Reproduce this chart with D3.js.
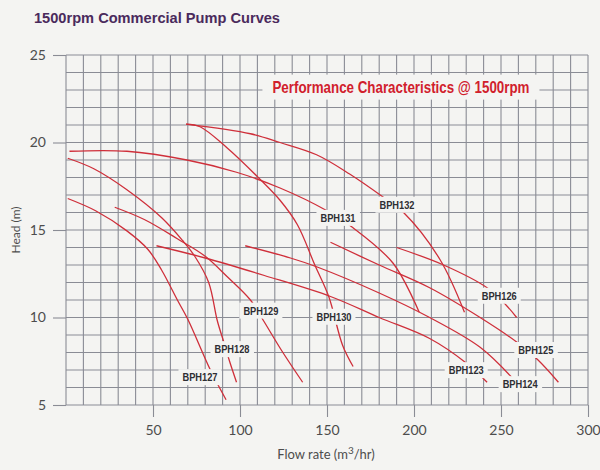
<!DOCTYPE html>
<html><head><meta charset="utf-8">
<script src="https://cdn.jsdelivr.net/npm/d3@7"></script>
<style>
html,body{margin:0;padding:0;background:#f4f4f2;}
svg{display:block;}
</style>
</head><body>
<svg id="chart" width="600" height="470"></svg>
<script>
// ---- data (flow m3/hr, head m) ----
const flowTicks = [50, 100, 150, 200, 250, 300];
const headTicks = [5, 10, 15, 20, 25];
const pumpNames = ["BPH123","BPH124","BPH125","BPH126","BPH127","BPH128","BPH129","BPH130","BPH131","BPH132"];
const bph123 = [[52,14.1],[80,13.4],[114,12.4],[152,11.2],[180,10.0],[209,8.8],[230,7.4],[242,6.3]];
const bph124 = [[103,14.1],[129,13.4],[144,12.9],[180,11.4],[209,10.0],[238,8.3],[256,6.6]];
const bph125 = [[152,14.3],[180,13.0],[209,11.7],[238,10.0],[259,8.6],[271,7.6],[283,6.3]];
const bph126 = [[190,14.0],[217,13.0],[242,11.7],[253,10.7],[259,10.0]];
const bph127 = [[1,16.8],[17,16.1],[35,14.95],[47,13.9],[55,12.7],[64,11.0],[70,9.9],[83,7.0],[92,5.3]];
const bph128 = [[1,19.1],[16,18.5],[35,17.3],[55,15.7],[67,14.4],[74,13.5],[82,12.0],[87,9.8],[91,8.5],[94,7.5],[98,6.3]];
const bph129 = [[28,16.3],[45,15.6],[64,14.5],[80,13.5],[93,12.3],[106,11.0],[113,9.9],[124,8.1],[136,6.3]];
const bph130 = [[69,21.05],[77,20.9],[92.5,19.7],[111.5,17.9],[123,16.7],[133,15.3],[143,13.0],[151,11.2],[159,8.4],[165,7.2]];
const bph131 = [[2,19.5],[35,19.5],[69.5,19.0],[98,18.3],[123,17.4],[150,16.1],[164,15.2],[188,13.1],[203,10.3]];
const bph132 = [[69,21.05],[106,20.5],[123,20.0],[144,19.3],[163,18.2],[182,16.9],[194,16.0],[215,13.3],[229,10.3]];
const pumpCurves = [bph123,bph124,bph125,bph126,bph127,bph128,bph129,bph130,bph131,bph132];
// label anchor in (flow, head)
const labelFlow = [230, 261, 270, 249, 77, 95.4, 112, 154, 156.3, 190.2];
const labelHead = [7.0, 6.2, 8.15, 11.25, 6.6, 8.2, 10.4, 10.05, 15.7, 16.45];
const title = "1500rpm Commercial Pump Curves";
const subtitle = "Performance Characteristics @ 1500rpm";

// ---- drawing ----
const svg = d3.select("#chart");
const W = 600, H = 470;
const x = d3.scaleLinear().domain([0, 300]).range([66, 588]);
const y = d3.scaleLinear().domain([5, 25]).range([405, 55]);
const bg = "#f4f4f2";
const gridColor = "#8a8c95";
const red = "#cf2f3a";

svg.append("rect").attr("width", W).attr("height", H).attr("fill", bg);

// grid
const g = svg.append("g").attr("stroke", gridColor).attr("stroke-width", 1.1);
g.selectAll("line.v").data(d3.range(0, 301, 10)).join("line")
  .attr("x1", d => x(d)).attr("x2", d => x(d))
  .attr("y1", y(25)).attr("y2", y(5));
g.selectAll("line.h").data(d3.range(5, 26, 1)).join("line")
  .attr("x1", x(0)).attr("x2", x(300))
  .attr("y1", d => y(d)).attr("y2", d => y(d));

// axes
const xAxis = d3.axisBottom(x).tickValues(flowTicks).tickSize(12).tickPadding(8);
const yAxis = d3.axisLeft(y).tickValues(headTicks).tickSize(13).tickPadding(7);
const gx = svg.append("g").attr("transform", `translate(0,${y(5)})`).call(xAxis);
const gy = svg.append("g").attr("transform", `translate(${x(0)},0)`).call(yAxis);
[gx, gy].forEach(a => {
  a.select(".domain").remove();
  a.selectAll(".tick line").attr("stroke", gridColor).attr("stroke-width", 1.1);
  a.selectAll(".tick text").attr("fill", "#4d4d4d")
    .style("font-family", "Lato, 'Open Sans', sans-serif").style("font-size", "14px");
});

// curves
const line = d3.line().x(d => x(d[0])).y(d => y(d[1])).curve(d3.curveCatmullRom.alpha(0.5));
svg.append("g").selectAll("path").data(pumpCurves).join("path")
  .attr("d", line).attr("fill", "none").attr("stroke", red).attr("stroke-width", 1.3);

// curve labels
const lg = svg.append("g");
pumpNames.forEach((name, i) => {
  const gg = lg.append("g").attr("transform", `translate(${x(labelFlow[i])},${y(labelHead[i])})`);
  const t = gg.append("text").text(name)
    .attr("text-anchor", "middle").attr("dy", "0.36em")
    .attr("fill", "#2e2e33")
    .style("font-family", "'Liberation Sans Narrow', 'Arial Narrow', 'Liberation Sans', sans-serif")
    .style("font-weight", "bold").style("font-size", "11.5px")
    .attr("textLength", 35).attr("lengthAdjust", "spacingAndGlyphs");
  const b = t.node().getBBox();
  gg.insert("rect", "text").attr("x", b.x - 4).attr("y", b.y - 2)
    .attr("width", b.width + 8).attr("height", b.height + 4).attr("fill", bg);
});

// subtitle inside the grid
const sg = svg.append("g").attr("transform", `translate(${x(192.5)},${y(23.2)})`);
const st = sg.append("text").text(subtitle).attr("text-anchor", "middle").attr("dy", "0.36em")
  .attr("fill", "#d1202c")
  .style("font-family", "'Liberation Sans Narrow', 'Arial Narrow', 'Liberation Sans', sans-serif")
  .style("font-weight", "bold").style("font-size", "17px")
  .attr("textLength", 257).attr("lengthAdjust", "spacingAndGlyphs");
const sb = st.node().getBBox();
sg.insert("rect", "text").attr("x", sb.x - 10).attr("y", sb.y - 3)
  .attr("width", sb.width + 20).attr("height", sb.height + 6).attr("fill", bg);

// title
svg.append("text").text(title).attr("x", 34).attr("y", 23)
  .attr("fill", "#4a2a5c")
  .style("font-family", "'Liberation Sans', Arial, sans-serif")
  .style("font-weight", "bold").style("font-size", "14.5px")
  .attr("textLength", 246).attr("lengthAdjust", "spacingAndGlyphs");

// axis titles
const xt = svg.append("text").attr("x", 326).attr("y", 459).attr("text-anchor", "middle")
  .attr("fill", "#4d4d4d").style("font-family", "Lato, 'Open Sans', sans-serif").style("font-size", "13px");
xt.append("tspan").text("Flow rate (m");
xt.append("tspan").text("3").attr("dy", "-5").style("font-size", "10px");
xt.append("tspan").text("/hr)").attr("dy", "5");

svg.append("text").text("Head (m)")
  .attr("transform", `translate(20,${y(15)}) rotate(-90)`)
  .attr("text-anchor", "middle")
  .attr("fill", "#4d4d4d").style("font-family", "Lato, 'Open Sans', sans-serif").style("font-size", "12px");
</script>
</body></html>
